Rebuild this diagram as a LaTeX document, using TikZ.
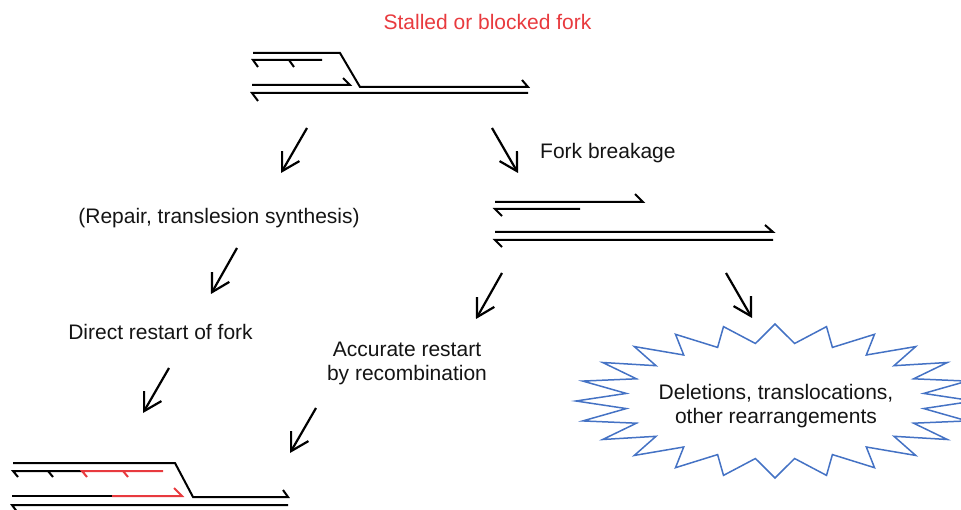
\documentclass[tikz,border=0pt]{standalone}
\usepackage{fontspec}
\setmainfont{Liberation Sans}
\usetikzlibrary{arrows.meta}
\definecolor{forkred}{RGB}{232,58,62}
\definecolor{burstblue}{RGB}{68,114,196}
\definecolor{inkgray}{RGB}{20,20,20}
\begin{document}
\begin{tikzpicture}[x=1pt,y=-1pt,
  strand/.style={line width=2pt, line join=miter},
  newstrand/.style={strand, draw=forkred},
  steparrow/.style={line width=2.2pt, -{Straight Barb[angle=60:20pt]}},
  label/.style={font=\fontsize{21}{24}\selectfont, align=center, inner sep=0pt, text=inkgray},
  burst/.style={draw=burstblue, line width=1.5pt, line join=miter},
]
\useasboundingbox (0,0) rectangle (961,510);
\clip (0,0) rectangle (961,510);

% ---------- labels (base anchor = baseline of the last line) ----------
\node[label, text=forkred, anchor=base] (stalled) at (487.5,30) {Stalled or blocked fork};
\node[label, anchor=base west] (breakage) at (540,159) {Fork breakage};
\node[label, anchor=base] (repair) at (219,224) {(Repair, translesion synthesis)};
\node[label, anchor=base] (direct) at (160.5,340) {Direct restart of fork};
\node[label, anchor=base] (accurate) at (407,381) {Accurate restart\\by recombination};

% ---------- stalled fork ----------
\draw[strand] (253,53) -- (340,53) -- (360,87) -- (528,87) -- ++(-6,-7);
\draw[strand] (322,60) -- (253,60) -- ++(5,7);
\draw[strand] (289,60) -- ++(5,7);
\draw[strand] (252,85) -- (350,85) -- ++(-7,-7);
\draw[strand] (528,93) -- (252,93) -- ++(6,8);

% ---------- broken fork ----------
\draw[strand] (495,202) -- (643,202) -- ++(-8,-8);
\draw[strand] (580,209) -- (495,209) -- ++(7,7);
\draw[strand] (495,232) -- (773,232) -- ++(-8,-7);
\draw[strand] (773,240) -- (495,240) -- ++(7,7);

% ---------- restarted fork ----------
\draw[strand] (13,463) -- (175,463) -- (193,497) -- (288,497) -- ++(-5,-7);
\draw[strand] (82,471) -- (13,471) -- ++(5,6);
\draw[strand] (48,471) -- ++(5,6);
\draw[newstrand] (163,471) -- (82,471) -- ++(5,6);
\draw[newstrand] (123,471) -- ++(5,6);
\draw[strand] (12,496) -- (112,496);
\draw[newstrand] (112,496) -- (182,496) -- ++(-8,-8);
\draw[strand] (288,505) -- (12,505) -- ++(6,8);

% ---------- rearrangement burst ----------
\draw[burst] (775,324)
  \foreach \k [evaluate=\k as \rx using {mod(\k,2)==0 ? 199 : 150},
               evaluate=\k as \ry using {mod(\k,2)==0 ? 77 : 58}] in {1,...,47}
  { -- ({775+\rx*cos(90+7.5*\k)},{401-\ry*sin(90+7.5*\k)}) } -- cycle;
\node[label, anchor=base] (rearr) at (776,423) {Deletions, translocations,\\other rearrangements};

% ---------- arrows ----------
\coordinate (a1s) at (307,128); \coordinate (a1e) at (281,173);
\coordinate (a2s) at (492,128); \coordinate (a2e) at (518,173);
\coordinate (a3s) at (237,248); \coordinate (a3e) at (211,294);
\coordinate (a4s) at (169,368); \coordinate (a4e) at (143,413);
\coordinate (a5s) at (502,273); \coordinate (a5e) at (476,319);
\coordinate (a6s) at (726,273); \coordinate (a6e) at (752,318);
\coordinate (a7s) at (316,408); \coordinate (a7e) at (290,453);
\foreach \i in {1,...,7} \draw[steparrow] (a\i s) -- (a\i e);
\end{tikzpicture}
\end{document}
